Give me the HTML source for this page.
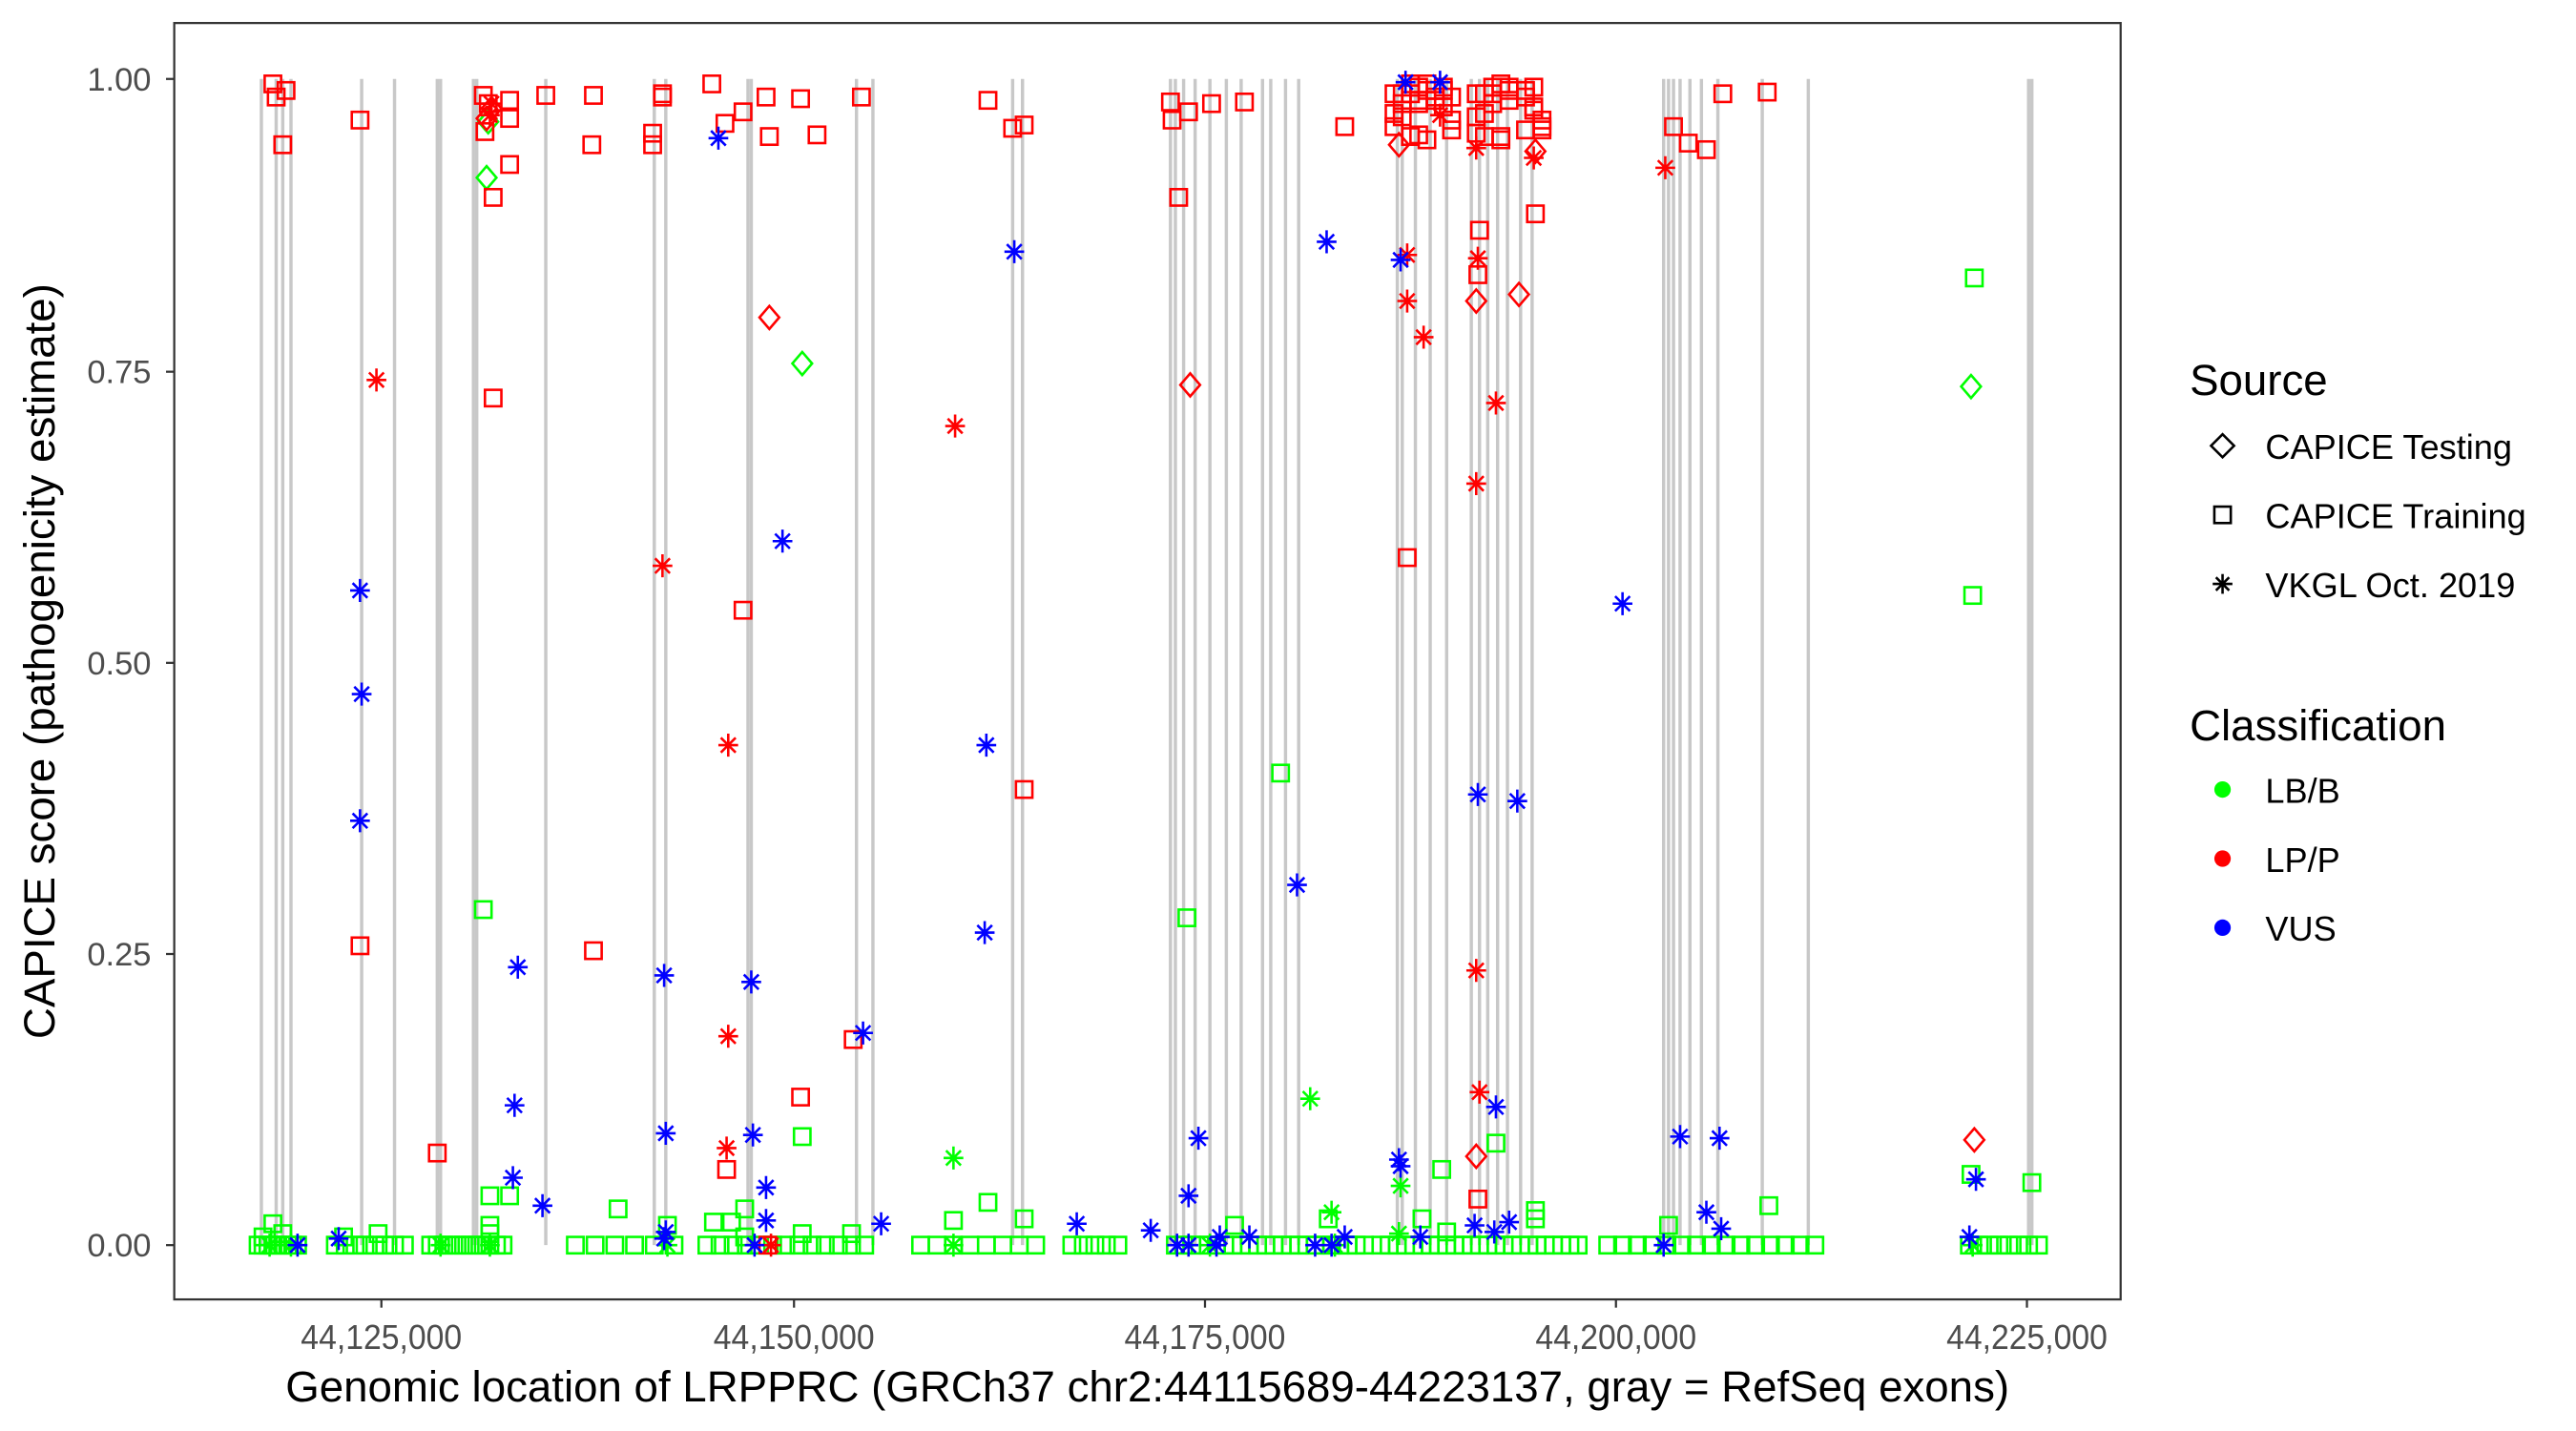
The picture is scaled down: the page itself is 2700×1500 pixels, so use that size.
<!DOCTYPE html>
<html><head><meta charset="utf-8"><style>
html,body{margin:0;padding:0;background:#fff;}
svg{display:block;}
text{font-family:"Liberation Sans",sans-serif;}
.tk{font-family:"Liberation Sans Narrow","Liberation Sans",sans-serif;font-size:20px;fill:#4d4d4d;}
.tx{font-family:"Liberation Sans Narrow","Liberation Sans",sans-serif;font-size:21px;fill:#4d4d4d;}
</style></head><body>
<svg id="s" width="2700" height="1500" viewBox="0 0 1567 870" preserveAspectRatio="none" xmlns="http://www.w3.org/2000/svg">
<rect x="0" y="0" width="1567" height="870" fill="#fff"/>
<g id="ex" stroke="#c8c8c8" stroke-width="2"></g>
<g id="pts" fill="none" stroke-width="1.5"></g>
<rect x="106" y="14" width="1184" height="776" fill="none" stroke="#333" stroke-width="1.3"/>
<g stroke="#333" stroke-width="1.3">
<line x1="101" y1="48" x2="106" y2="48"/><line x1="101" y1="226" x2="106" y2="226"/><line x1="101" y1="403" x2="106" y2="403"/><line x1="101" y1="580" x2="106" y2="580"/><line x1="101" y1="757" x2="106" y2="757"/>
<line x1="232" y1="790" x2="232" y2="795"/><line x1="483" y1="790" x2="483" y2="795"/><line x1="733" y1="790" x2="733" y2="795"/><line x1="983" y1="790" x2="983" y2="795"/><line x1="1233" y1="790" x2="1233" y2="795"/>
</g>
<g class="tk">
<text x="53" y="55" textLength="39" lengthAdjust="spacingAndGlyphs">1.00</text><text x="53" y="233" textLength="39" lengthAdjust="spacingAndGlyphs">0.75</text><text x="53" y="410" textLength="39" lengthAdjust="spacingAndGlyphs">0.50</text><text x="53" y="587" textLength="39" lengthAdjust="spacingAndGlyphs">0.25</text><text x="53" y="764" textLength="39" lengthAdjust="spacingAndGlyphs">0.00</text>
</g>
<g class="tx">
<text x="183" y="820" textLength="98" lengthAdjust="spacingAndGlyphs">44,125,000</text><text x="434" y="820" textLength="98" lengthAdjust="spacingAndGlyphs">44,150,000</text><text x="684" y="820" textLength="98" lengthAdjust="spacingAndGlyphs">44,175,000</text><text x="934" y="820" textLength="98" lengthAdjust="spacingAndGlyphs">44,200,000</text><text x="1184" y="820" textLength="98" lengthAdjust="spacingAndGlyphs">44,225,000</text>
</g>
<text x="698" y="852" text-anchor="middle" font-size="26.5" fill="#000">Genomic location of LRPPRC (GRCh37 chr2:44115689-44223137, gray = RefSeq exons)</text>
<text transform="translate(33,402) rotate(-90)" text-anchor="middle" font-size="26.5" fill="#000">CAPICE score (pathogenicity estimate)</text>
<text x="1332" y="240" font-size="26.5">Source</text>
<path d="M1352 264 L1359 271 L1352 278 L1345 271 Z" fill="none" stroke="#000" stroke-width="1.5"/>
<rect x="1347" y="308" width="10" height="10" fill="none" stroke="#000" stroke-width="1.5"/>
<g stroke="#000" stroke-width="1.5"><line x1="1346" y1="355" x2="1358" y2="355"/><line x1="1352" y1="349" x2="1352" y2="361"/><line x1="1348" y1="351" x2="1356" y2="359"/><line x1="1348" y1="359" x2="1356" y2="351"/></g>
<g font-size="21"><text x="1378" y="279">CAPICE Testing</text><text x="1378" y="321">CAPICE Training</text><text x="1378" y="363">VKGL Oct. 2019</text></g>
<text x="1332" y="450" font-size="26.5">Classification</text>
<circle cx="1352" cy="480" r="5" fill="#00ff00"/><circle cx="1352" cy="522" r="5" fill="#ff0000"/><circle cx="1352" cy="564" r="5" fill="#0000ff"/>
<g font-size="21"><text x="1378" y="488">LB/B</text><text x="1378" y="530">LP/P</text><text x="1378" y="572">VUS</text></g>
</svg>
<script>
var NS="http://www.w3.org/2000/svg";
var ex=document.getElementById('ex');
[159,168,172,177,220,240,266,268,288,290,332,398,405,455,457,521,531,616,622,712,715,720,727,736,746,755,768,773,782,790,850,853,861,870,880,895,900,905,911,917,925,932,1012,1015,1018,1022,1028,1035,1045,1072,1100,1234,1236].forEach(function(x){
 var l=document.createElementNS(NS,'line');l.setAttribute('x1',x);l.setAttribute('x2',x);l.setAttribute('y1',48);l.setAttribute('y2',757);ex.appendChild(l);});
var P=document.getElementById('pts');
var C={g:'#00ff00',r:'#ff0000',b:'#0000ff'};
function add(x,y,t,c){
 var col=C[c],e;
 if(t=='s'){e=document.createElementNS(NS,'rect');e.setAttribute('x',x-5);e.setAttribute('y',y-5);e.setAttribute('width',10);e.setAttribute('height',10);}
 else if(t=='d'){e=document.createElementNS(NS,'path');e.setAttribute('d','M'+x+' '+(y-7)+'L'+(x+6)+' '+y+'L'+x+' '+(y+7)+'L'+(x-6)+' '+y+'Z');}
 else{e=document.createElementNS(NS,'path');e.setAttribute('d','M'+(x-6)+' '+y+'H'+(x+6)+'M'+x+' '+(y-7)+'V'+(y+7)+'M'+(x-4.5)+' '+(y-4.5)+'L'+(x+4.5)+' '+(y+4.5)+'M'+(x-4.5)+' '+(y+4.5)+'L'+(x+4.5)+' '+(y-4.5));}
 e.setAttribute('stroke',col);P.appendChild(e);}
var gb=[[157,182,3],[204,246,6],[262,306,4],[350,420,12],[430,530,8],[560,630,10],[652,680,7],[715,830,5],[840,960,5],[978,1110,9],[1198,1240,6]];
gb.forEach(function(r){for(var x=r[0];x<=r[1];x+=r[2])add(x,757,'s','g');});
[[166,744],[160,752],[172,750],[294,553],[298,727],[310,727],[298,745],[376,735],[406,745],[434,743],[445,743],[453,735],[488,691],[488,750],[518,750],[580,742],[601,731],[623,741],[722,558],[779,470],[751,745],[808,741],[865,741],[877,711],[880,749],[910,695],[934,736],[934,741],[1076,733],[1201,169],[1200,362],[1236,719],[1199,714],[1015,745],[209,752],[230,750],[298,750],[453,752]].forEach(function(p){add(p[0],p[1],'s','g');});
[[296,108],[297,74],[488,221],[1199,235]].forEach(function(p){add(p[0],p[1],'d','g');});
[[580,704],[797,668],[810,737],[852,721],[580,757],[812,757],[1200,757],[164,757],[177,757],[406,757],[298,757],[268,757],[736,757],[851,750]].forEach(function(p){add(p[0],p[1],'a','g');});
[[166,51],[168,59],[174,55],[172,88],[219,73],[294,58],[295,80],[300,120],[297,63],[310,61],[310,72],[310,100],[332,58],[361,58],[360,88],[397,81],[397,88],[403,57],[403,59],[433,51],[441,75],[452,68],[466,59],[468,83],[487,60],[497,82],[524,59],[601,61],[616,78],[623,76],[712,62],[713,73],[717,120],[723,68],[737,63],[757,62],[818,77],[1018,77],[1027,87],[1038,91],[1048,57],[1075,56],[934,130],[300,242],[219,575],[266,701],[361,578],[452,371],[442,711],[487,667],[519,632],[623,480],[856,339],[899,167],[899,729],[467,757],[863,82],[900,140]].forEach(function(p){add(p[0],p[1],'s','r');});
var pr=[7,23,41,13,31,3,37,19,29,11,43,17,5,33,27,9,39,21,15,35];
for(var x=848,i=0;x<=940;x+=5,i++){for(var k=0;k<3;k++){var y=50+pr[(i*3+k*7)%20]%36;if(!((x>885&&x<895)||(x>918&&x<924)))add(x,y,'s','r');}}
[[296,72],[299,66],[851,88],[468,193],[724,234],[898,183],[924,179],[898,703],[1201,693],[934,92]].forEach(function(p){add(p[0],p[1],'d','r');});
[[299,63],[298,70],[229,231],[403,344],[443,453],[443,630],[442,698],[581,259],[856,155],[856,183],[866,205],[899,157],[898,294],[910,245],[898,590],[900,664],[1013,102],[933,96],[469,757],[876,70],[898,90]].forEach(function(p){add(p[0],p[1],'a','r');});
[[437,84],[219,359],[220,422],[219,499],[315,588],[313,672],[312,716],[330,733],[404,593],[405,689],[404,753],[457,597],[458,690],[476,329],[466,722],[466,742],[459,757],[525,628],[536,744],[617,153],[600,453],[599,567],[655,744],[700,748],[716,757],[723,727],[729,692],[742,752],[740,757],[760,752],[789,538],[807,147],[852,158],[851,705],[852,709],[864,752],[899,483],[910,673],[923,487],[897,745],[909,749],[918,743],[987,367],[1022,691],[1046,692],[1038,737],[1047,747],[1012,757],[1202,717],[1198,752],[181,757],[206,753],[405,749],[810,757],[818,752],[800,757],[855,50],[876,50],[723,757]].forEach(function(p){add(p[0],p[1],'a','b');});
</script>
</body></html>
